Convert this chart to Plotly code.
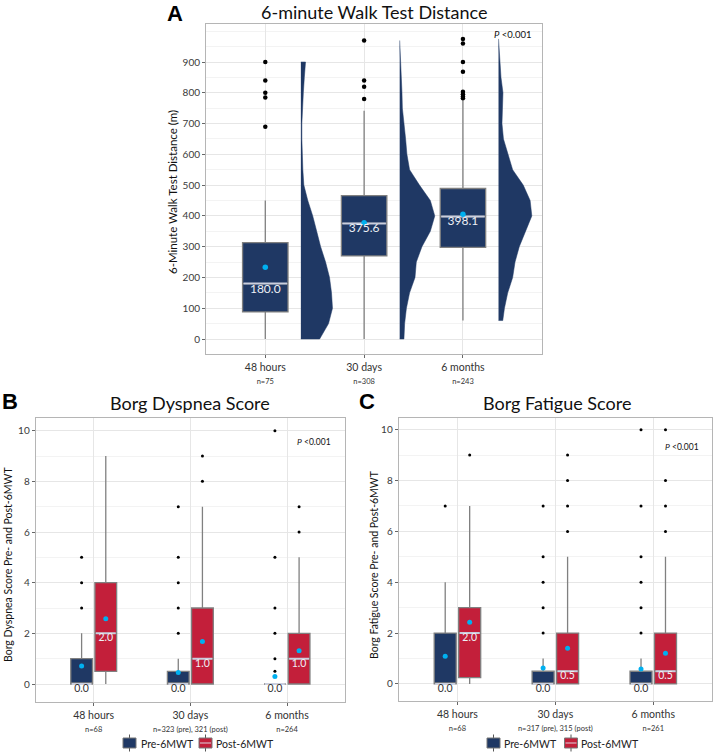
import plotly.graph_objects as go

NAVY = "#1f3864"
RED = "#c31f3a"
BOXLINE = "#808080"
MEDIAN_LINE = "rgba(205,210,225,0.95)"
MEAN_COL = "#00b0f0"
FONT = "Lato"

# ---------------- Panel A data ----------------
a_cats = ["48 hours", "30 days", "6 months"]
a_n = ["n=75", "n=308", "n=243"]
a_q1 = [88, 270, 298]
a_med = [180.0, 375.6, 398.1]
a_q3 = [313, 466, 489]
a_lo = [0, 0, 60]
a_hi = [450, 742, 776]
a_mean = [233, 378, 405]
a_out = [[900, 840, 800, 785, 690],
         [970, 840, 820, 780],
         [975, 960, 900, 868, 803, 795, 788, 782]]

# half-violin density profiles (distance in m, half-width in category units)
v48_y = [0, 50, 100, 150, 200, 250, 300, 350, 400, 450, 500, 550, 600, 650, 700, 750, 800, 850, 900]
v48_w = [0.19, 0.28, 0.32, 0.31, 0.29, 0.25, 0.20, 0.16, 0.12, 0.07, 0.03, 0.02, 0.012, 0.01, 0.01,
         0.015, 0.025, 0.035, 0.047]
v30_y = [0, 50, 100, 150, 200, 250, 300, 350, 400, 450, 500, 550, 600, 650, 700, 750, 800, 850, 900, 950, 970]
v30_w = [0.043, 0.05, 0.068, 0.10, 0.155, 0.168, 0.225, 0.31, 0.355, 0.31, 0.20, 0.10, 0.073, 0.06,
         0.04, 0.027, 0.023, 0.017, 0.012, 0.005, 0.0]
v6_y = [60, 100, 150, 200, 250, 300, 350, 400, 450, 500, 550, 600, 650, 700, 750, 800, 850, 900, 950, 975]
v6_w = [0.043, 0.06, 0.093, 0.143, 0.167, 0.21, 0.277, 0.337, 0.32, 0.25, 0.143, 0.093, 0.05, 0.035,
        0.04, 0.045, 0.025, 0.015, 0.01, 0.0]
violins = [(v48_y, v48_w), (v30_y, v30_w), (v6_y, v6_w)]

# ---------------- Panel B data (Dyspnea) ----------------
b_cats = ["48 hours", "30 days", "6 months"]
b_n = ["n=68", "n=323 (pre), 321 (post)", "n=264"]
b_pre_q1 = [0, 0, 0]
b_pre_med = [0.0, 0.0, 0.0]
b_pre_q3 = [1, 0.5, 0]
b_pre_lo = [0, 0, 0]
b_pre_hi = [2, 1, 0]
b_pre_mean = [0.71, 0.45, 0.30]
b_pre_out = [[3, 4, 5], [2, 3, 4, 5, 7], [0.5, 1, 2, 3, 5, 10]]
b_post_q1 = [0.5, 0, 0]
b_post_med = [2.0, 1.0, 1.0]
b_post_q3 = [4, 3, 2]
b_post_lo = [0, 0, 0]
b_post_hi = [9, 7, 5]
b_post_mean = [2.58, 1.68, 1.31]
b_post_out = [[], [8, 9], [6, 7]]

# ---------------- Panel C data (Fatigue) ----------------
c_cats = ["48 hours", "30 days", "6 months"]
c_n = ["n=68", "n=317 (pre), 315 (post)", "n=261"]
c_pre_q1 = [0, 0, 0]
c_pre_med = [0.0, 0.0, 0.0]
c_pre_q3 = [2, 0.5, 0.5]
c_pre_lo = [0, 0, 0]
c_pre_hi = [4, 1, 1]
c_pre_mean = [1.09, 0.63, 0.59]
c_pre_out = [[7], [2, 3, 4, 5, 7], [2, 3, 4, 5, 7, 10]]
c_post_q1 = [0.25, 0, 0]
c_post_med = [2.0, 0.5, 0.5]
c_post_q3 = [3, 2, 2]
c_post_lo = [0, 0, 0]
c_post_hi = [7, 5, 5]
c_post_mean = [2.43, 1.40, 1.21]
c_post_out = [[9], [6, 7, 8, 9], [6, 7, 8, 10]]

legend_names = ["Pre-6MWT", "Post-6MWT"]

fig = go.Figure()


def add_box_group(xs, q1, med, q3, lo, hi, mean, outs, width, color, name, xa, ya,
                  med_font, out_size, mean_size):
    fig.add_trace(go.Box(
        x=xs, q1=q1, median=med, q3=q3, lowerfence=lo, upperfence=hi,
        width=width, fillcolor=color, line=dict(color=BOXLINE, width=1.3),
        whiskerwidth=0, boxpoints=False, name=name, showlegend=False,
        xaxis=xa, yaxis=ya, hoverinfo="skip"))
    # median lines
    mx, my = [], []
    for x, m in zip(xs, med):
        mx += [x - width / 2 + 0.01, x + width / 2 - 0.01, None]
        my += [m, m, None]
    fig.add_trace(go.Scatter(x=mx, y=my, mode="lines", line=dict(color=MEDIAN_LINE, width=2),
                             showlegend=False, xaxis=xa, yaxis=ya, hoverinfo="skip"))
    # outliers
    ox, oy = [], []
    for x, o in zip(xs, outs):
        ox += [x] * len(o)
        oy += o
    fig.add_trace(go.Scatter(x=ox, y=oy, mode="markers", marker=dict(color="black", size=out_size),
                             showlegend=False, xaxis=xa, yaxis=ya, hoverinfo="skip"))
    # means
    fig.add_trace(go.Scatter(x=xs, y=mean, mode="markers",
                             marker=dict(color=MEAN_COL, size=mean_size),
                             showlegend=False, xaxis=xa, yaxis=ya, hoverinfo="skip"))
    # median labels
    cols = ["#eef0f6" if m > q else "#333333" for m, q in zip(med, q1)]
    fig.add_trace(go.Scatter(x=xs, y=med, mode="text", text=[f"{m:.1f}" for m in med],
                             textposition="bottom center",
                             textfont=dict(color=cols, size=med_font, family=FONT),
                             showlegend=False, xaxis=xa, yaxis=ya, hoverinfo="skip"))


# ---- Panel A: half violins ----
VOFF = 0.36
for i, (vy, vw) in enumerate(violins):
    base = i + VOFF
    px = [base] + [base + w for w in vw] + [base]
    py = [vy[0]] + list(vy) + [vy[-1]]
    fig.add_trace(go.Scatter(x=px, y=py, mode="lines", fill="toself", fillcolor=NAVY,
                             line=dict(color=NAVY, width=0.5), showlegend=False,
                             xaxis="x", yaxis="y", hoverinfo="skip"))

add_box_group([0, 1, 2], a_q1, a_med, a_q3, a_lo, a_hi, a_mean, a_out, 0.46, NAVY, "6MWD",
              "x", "y", 12, 4.5, 5.5)

OFF = 0.125
BW = 0.225
add_box_group([i - OFF for i in range(3)], b_pre_q1, b_pre_med, b_pre_q3, b_pre_lo, b_pre_hi,
              b_pre_mean, b_pre_out, BW, NAVY, legend_names[0], "x2", "y2", 10.5, 3, 5)
add_box_group([i + OFF for i in range(3)], b_post_q1, b_post_med, b_post_q3, b_post_lo, b_post_hi,
              b_post_mean, b_post_out, BW, RED, legend_names[1], "x2", "y2", 10.5, 3, 5)
add_box_group([i - OFF for i in range(3)], c_pre_q1, c_pre_med, c_pre_q3, c_pre_lo, c_pre_hi,
              c_pre_mean, c_pre_out, BW, NAVY, legend_names[0], "x3", "y3", 10.5, 3, 5)
add_box_group([i + OFF for i in range(3)], c_post_q1, c_post_med, c_post_q3, c_post_lo, c_post_hi,
              c_post_mean, c_post_out, BW, RED, legend_names[1], "x3", "y3", 10.5, 3, 5)

W, H = 714, 752


def px_x(v):
    return v / W


def px_y(v):
    return 1 - v / H


frame = dict(showline=True, mirror=True, linecolor="#b5b5b5", linewidth=1, zeroline=False,
             ticks="outside", ticklen=3, tickcolor="#666666", tickwidth=1,
             showgrid=True, gridcolor="#e6e6e6", gridwidth=1,
             tickfont=dict(family=FONT, size=10, color="#3a3a3a"))


def xticks(cats, ns):
    return [f"{c}<br><span style='font-size:7.5px'>{n}</span>" for c, n in zip(cats, ns)]


fig.update_layout(
    width=W, height=H, margin=dict(l=0, r=0, t=0, b=0),
    paper_bgcolor="white", plot_bgcolor="white",
    font=dict(family=FONT, color="#222222"),
    boxmode="overlay", showlegend=False,
    xaxis=dict(frame, domain=[px_x(206), px_x(542)], range=[-0.6, 2.8], anchor="y",
               tickvals=[0, 1, 2], ticktext=xticks(a_cats, a_n),
               tickfont=dict(family=FONT, size=10.5, color="#333333")),
    yaxis=dict(frame, domain=[px_y(354), px_y(24)], range=[-48.7, 1023.5], anchor="x",
               tickvals=list(range(0, 1000, 100)),
               minor=dict(dtick=50, tick0=0, showgrid=True, gridcolor="#f3f3f3", ticks="")),
    xaxis2=dict(frame, domain=[px_x(35.7), px_x(345)], range=[-0.6, 2.6], anchor="y2",
                tickvals=[0, 1, 2], ticktext=xticks(b_cats, b_n),
                tickfont=dict(family=FONT, size=10.5, color="#333333")),
    yaxis2=dict(frame, domain=[px_y(702), px_y(418)], range=[-0.71, 10.5], anchor="x2",
                tickvals=[0, 2, 4, 6, 8, 10],
                minor=dict(dtick=1, tick0=0, showgrid=True, gridcolor="#f3f3f3", ticks="")),
    xaxis3=dict(frame, domain=[px_x(398.7), px_x(712)], range=[-0.6, 2.6], anchor="y3",
                tickvals=[0, 1, 2], ticktext=xticks(c_cats, c_n),
                tickfont=dict(family=FONT, size=10.5, color="#333333")),
    yaxis3=dict(frame, domain=[px_y(701), px_y(418)], range=[-0.67, 10.46], anchor="x3",
                tickvals=[0, 2, 4, 6, 8, 10],
                minor=dict(dtick=1, tick0=0, showgrid=True, gridcolor="#f3f3f3", ticks="")),
)

ann = []
shapes = []


def add_ann(text, x, y, size, family=FONT, color="#111111", angle=0, xanchor="center"):
    ann.append(dict(text=text, x=x, y=y, xref="paper", yref="paper", showarrow=False,
                    xanchor=xanchor, yanchor="middle", textangle=angle,
                    font=dict(size=size, family=family, color=color)))


add_ann("<b>A</b>", px_x(175), px_y(14), 22, "Liberation Sans", "#000000")
add_ann("<b>B</b>", px_x(10), px_y(402), 22, "Liberation Sans", "#000000")
add_ann("<b>C</b>", px_x(367), px_y(402), 22, "Liberation Sans", "#000000")
add_ann("6-minute Walk Test Distance", px_x(374), px_y(12), 18)
add_ann("Borg Dyspnea Score", px_x(190), px_y(403), 18)
add_ann("Borg Fatigue Score", px_x(557), px_y(403), 18)
add_ann("<i>P</i> &lt;0.001", px_x(513), px_y(34), 9.5)
add_ann("<i>P</i> &lt;0.001", px_x(314), px_y(442), 8.5)
add_ann("<i>P</i> &lt;0.001", px_x(682), px_y(447), 8.5)
add_ann("6-Minute Walk Test Distance (m)", px_x(173), px_y(192), 11.5, angle=-90)
add_ann("Borg Dyspnea Score Pre- and Post-6MWT", px_x(8), px_y(565), 10.5, angle=-90)
add_ann("Borg Fatigue Score Pre- and Post-6MWT", px_x(374), px_y(565), 10.5, angle=-90)


# custom legends (box glyphs)
def legend_item(x_icon, x_text, color, label, show_median):
    cx = x_icon + 6.5
    shapes.append(dict(type="line", xref="paper", yref="paper", x0=px_x(cx), x1=px_x(cx),
                       y0=px_y(734.5), y1=px_y(751.5), line=dict(color="#555555", width=1)))
    shapes.append(dict(type="rect", xref="paper", yref="paper", x0=px_x(x_icon), x1=px_x(x_icon + 13),
                       y0=px_y(748), y1=px_y(738), fillcolor=color,
                       line=dict(color="#777777", width=1)))
    if show_median:
        shapes.append(dict(type="line", xref="paper", yref="paper", x0=px_x(x_icon + 1),
                           x1=px_x(x_icon + 12), y0=px_y(743), y1=px_y(743),
                           line=dict(color="#d8b8c4", width=1.2)))
    add_ann(label, px_x(x_text), px_y(743.5), 10.5, xanchor="left", color="#222222")


legend_item(123, 139, NAVY, legend_names[0], False)
legend_item(199, 214, RED, legend_names[1], True)
legend_item(487, 502, NAVY, legend_names[0], False)
legend_item(564.5, 579, RED, legend_names[1], True)

fig.update_layout(annotations=ann, shapes=shapes)

fig.write_html("out.html", config={"displayModeBar": False},
               post_script="document.body.style.margin='0px';document.body.style.overflow='hidden';")
